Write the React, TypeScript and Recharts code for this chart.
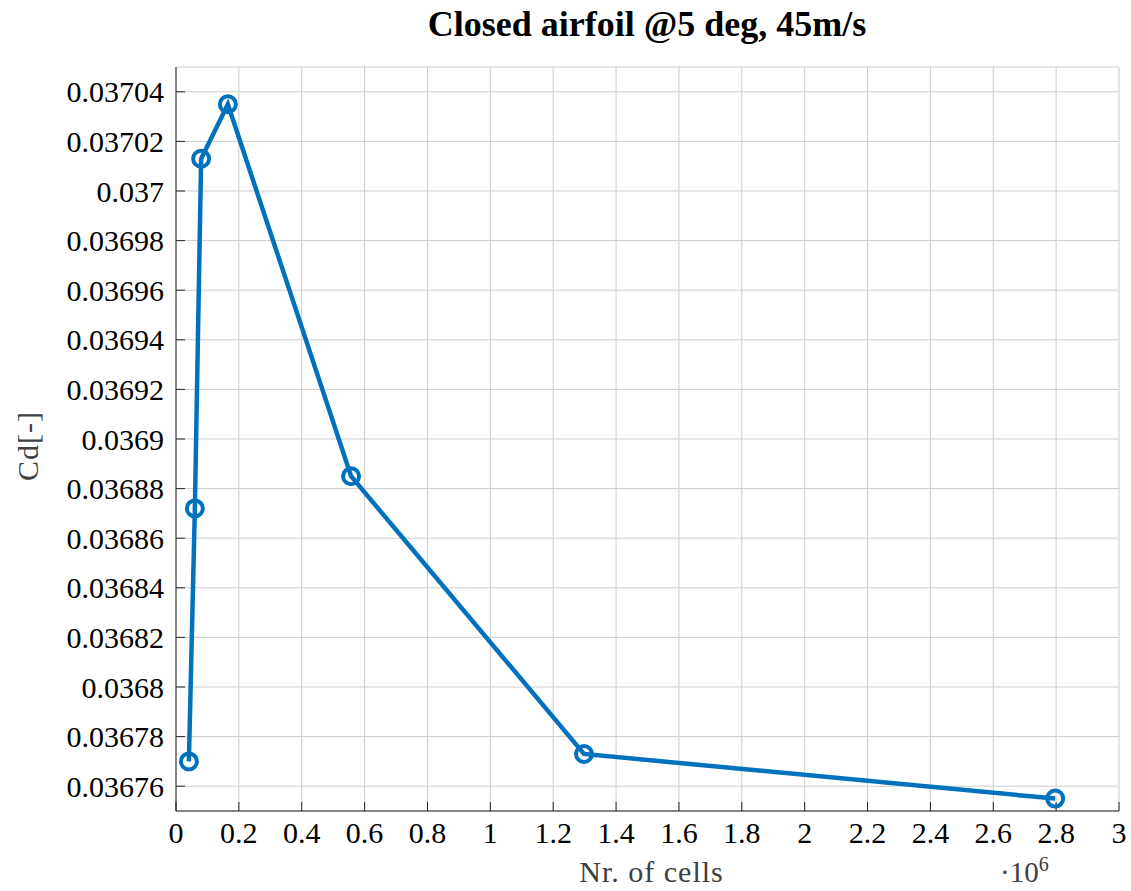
import { LineChart, Line, XAxis, YAxis, CartesianGrid } from 'recharts';

const cells = [41000, 60000, 80000, 165000, 557000, 1298000, 2797000];
const cd = [0.03677, 0.036872, 0.037013, 0.037035, 0.036885, 0.036773, 0.036755];

const xTicks = [0, 200000, 400000, 600000, 800000, 1000000, 1200000, 1400000, 1600000, 1800000, 2000000, 2200000, 2400000, 2600000, 2800000, 3000000];
const yTicks = [
  0.03676, 0.03678, 0.0368, 0.03682, 0.03684, 0.03686, 0.03688, 0.0369,
  0.03692, 0.03694, 0.03696, 0.03698, 0.037, 0.03702, 0.03704,
];

const data = cells.map((c, i) => ({ cells: c, cd: cd[i] }));

const FONT = '"Liberation Serif", "DejaVu Serif", serif';
const AXIS = '#262626';
const BLUE = '#0072BD';

const fmtX = (v: number) => String(parseFloat((v / 1e6).toFixed(1)));
const fmtY = (v: number) => String(parseFloat(v.toFixed(5)));

const XLabel = (props: any) => {
  const vb = props.viewBox;
  const cx = vb.x + vb.width / 2;
  return (
    <g>
      <text x={cx + 4} y={882} textAnchor="middle" fill="#404040" fontSize={30} letterSpacing={1} fontFamily={FONT}>
        Nr. of cells
      </text>
      <text x={1000} y={882} fill="#404040" fontSize={29} fontFamily={FONT}>
        ·10<tspan dy={-11} fontSize={20}>6</tspan>
      </text>
    </g>
  );
};

const YLabel = (props: any) => {
  const vb = props.viewBox;
  const cy = vb.y + vb.height / 2 + 7;
  return (
    <text
      x={27}
      y={cy}
      transform={`rotate(-90 27 ${cy})`}
      textAnchor="middle"
      dominantBaseline="central"
      fill="#404040"
      fontSize={30}
      letterSpacing={1}
      fontFamily={FONT}
    >
      Cd[-]
    </text>
  );
};

export default function App() {
  const tickStyle = { fill: '#000', fontSize: 30, fontFamily: FONT };
  return (
    <div style={{ position: 'absolute', left: 0, top: 0, width: 1131, height: 891, background: '#fff' }}>
      <svg width={1131} height={60} style={{ position: 'absolute', left: 0, top: 0 }}>
        <text x={647} y={36} textAnchor="middle" fontSize={36} fontWeight="bold" fontFamily={FONT} fill="#000">
          Closed airfoil @5 deg, 45m/s
        </text>
      </svg>
      <LineChart width={1131} height={891} data={data} margin={{ top: 67, right: 12, bottom: 0, left: 0 }}>
        <CartesianGrid stroke="#cccccc" strokeWidth={1} />
        <XAxis
          dataKey="cells"
          type="number"
          domain={[0, 3000000]}
          ticks={xTicks}
          allowDataOverflow
          height={80}
          tickFormatter={fmtX}
          tick={tickStyle}
          tickSize={-9}
          tickMargin={20}
          stroke={AXIS}
          label={{ content: XLabel }}
        />
        <XAxis
          xAxisId="top"
          orientation="top"
          type="number"
          domain={[0, 3000000]}
          ticks={xTicks}
          allowDataOverflow
          height={0}
          tickFormatter={() => ''}
          tickSize={-9}
          stroke={AXIS}
        />
        <YAxis
          type="number"
          domain={[0.03675, 0.03705]}
          ticks={yTicks}
          allowDataOverflow
          width={176}
          tickFormatter={fmtY}
          tick={tickStyle}
          tickSize={-9}
          tickMargin={21}
          stroke={AXIS}
          interval={0}
          label={{ content: YLabel }}
        />
        <YAxis
          yAxisId="right"
          orientation="right"
          type="number"
          domain={[0.03675, 0.03705]}
          ticks={yTicks}
          allowDataOverflow
          width={0}
          tickFormatter={() => ''}
          tickSize={-9}
          stroke={AXIS}
          interval={0}
        />
        <Line
          dataKey="cd"
          stroke={BLUE}
          strokeWidth={4.5}
          dot={{ r: 8, stroke: BLUE, strokeWidth: 4, fill: 'none' }}
          activeDot={false}
          isAnimationActive={false}
        />
      </LineChart>
    </div>
  );
}
